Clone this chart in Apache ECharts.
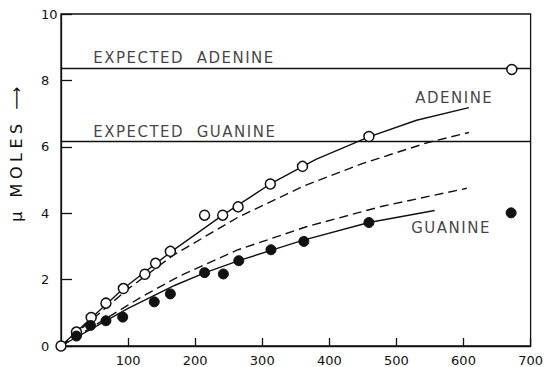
<!DOCTYPE html>
<html><head><meta charset="utf-8">
<script src="https://cdn.jsdelivr.net/npm/echarts@6/dist/echarts.min.js"></script>
<style>
html,body{margin:0;padding:0;background:#fff;}
#c{width:546px;height:367px;}
#c text[style*="15px"]{letter-spacing:1.5px;}
#c text[style*="16px"]{letter-spacing:4.5px;}
</style></head>
<body><div id="c"></div>
<script>
// observed points [x, µmoles]
const adenineObs = [[0,0],[23,0.42],[45,0.86],[67,1.29],[93,1.73],[125,2.16],[141,2.49],[163,2.85],[214,3.94],[241,3.94],[264,4.19],[312,4.88],[360,5.41],[459,6.31],[672,8.33]];
const guanineObs = [[23,0.3],[44,0.62],[67,0.76],[92,0.87],[139,1.33],[163,1.57],[214,2.21],[242,2.17],[265,2.57],[313,2.9],[362,3.15],[459,3.72],[671,4.01]];
// fitted curves (solid)
const adenineCurve = [[0,0],[93,1.73],[167,2.88],[241,3.94],[312,4.88],[380,5.62],[459,6.3],[530,6.8],[608,7.18]];
const guanineCurve = [[0,0],[100,1.13],[170,1.83],[214,2.2],[265,2.57],[313,2.88],[360,3.18],[459,3.72],[557,4.08]];
// dashed curves
const adenineDashed = [[0,0],[100,1.72],[167,2.73],[264,3.88],[362,4.82],[450,5.5],[547,6.13],[608,6.43]];
const guanineDashed = [[0,0],[120,1.48],[178,2.12],[264,2.9],[367,3.6],[479,4.21],[605,4.75]];
// expected levels
const expectedAdenine = 8.37;
const expectedGuanine = 6.16;
// annotation labels [x, y, text]
const annotations = [[48,8.67,'EXPECTED  ADENINE'],[48,6.45,'EXPECTED  GUANINE'],[528,7.46,'ADENINE'],[522,3.56,'GUANINE']];
const yAxisName = 'μ MOLES ⟶';

const chart = echarts.init(document.getElementById('c'), null, {renderer:'svg'});
const black = '#111';
const font = 'DejaVu Sans';
function lineSeries(data, dashed){
  return {type:'line', data, showSymbol:false, symbol:'none', smooth:false,
    lineStyle:{color:black, width:1.4, type: dashed ? [9,5] : 'solid'}, silent:true, z:2};
}
chart.setOption({
  animation:false,
  grid:{left:56, right:12, top:14, bottom:14.5, show:true, borderColor:black, borderWidth:1.3, backgroundColor:'transparent'},
  xAxis:{type:'value', min:0, max:700, interval:100,
    axisLine:{show:true, lineStyle:{color:black, width:1.3}},
    axisTick:{show:true, inside:true, length:8, lineStyle:{color:black, width:1.3}},
    axisLabel:{showMinLabel:false, margin:8, color:black, fontFamily:font, fontSize:13},
    splitLine:{show:false}},
  yAxis:{type:'value', min:0, max:10, interval:2,
    name:yAxisName, nameLocation:'middle', nameGap:37, nameRotate:90,
    nameTextStyle:{color:black, fontFamily:font, fontSize:16, padding:[0,0,0,56]},
    axisLine:{show:true, lineStyle:{color:black, width:1.3}},
    axisTick:{show:true, inside:true, length:11, lineStyle:{color:black, width:1.3}},
    axisLabel:{align:'left', margin:20, color:black, fontFamily:font, fontSize:13},
    splitLine:{show:false}},
  series:[
    Object.assign(lineSeries(adenineCurve,false), {markLine:{silent:true, symbol:'none', label:{show:false},
      lineStyle:{color:black, width:1.3, type:'solid'},
      data:[{yAxis:expectedAdenine},{yAxis:expectedGuanine}]}}),
    lineSeries(guanineCurve,false),
    lineSeries(adenineDashed,true),
    lineSeries(guanineDashed,true),
    {type:'scatter', data:adenineObs, symbol:'circle', symbolSize:10,
      itemStyle:{color:'#fff', borderColor:black, borderWidth:1.5, opacity:1}, z:5},
    {type:'scatter', data:guanineObs, symbol:'circle', symbolSize:10,
      itemStyle:{color:black, borderColor:black, borderWidth:1, opacity:1}, z:5},
    {type:'scatter', data:annotations.map(a=>({value:[a[0],a[1]], name:a[2]})), symbolSize:0, silent:true,
      label:{show:true, position:'right', distance:0, formatter:p=>p.name, color:black, fontFamily:font, fontSize:15}}
  ]
});
</script></body></html>
